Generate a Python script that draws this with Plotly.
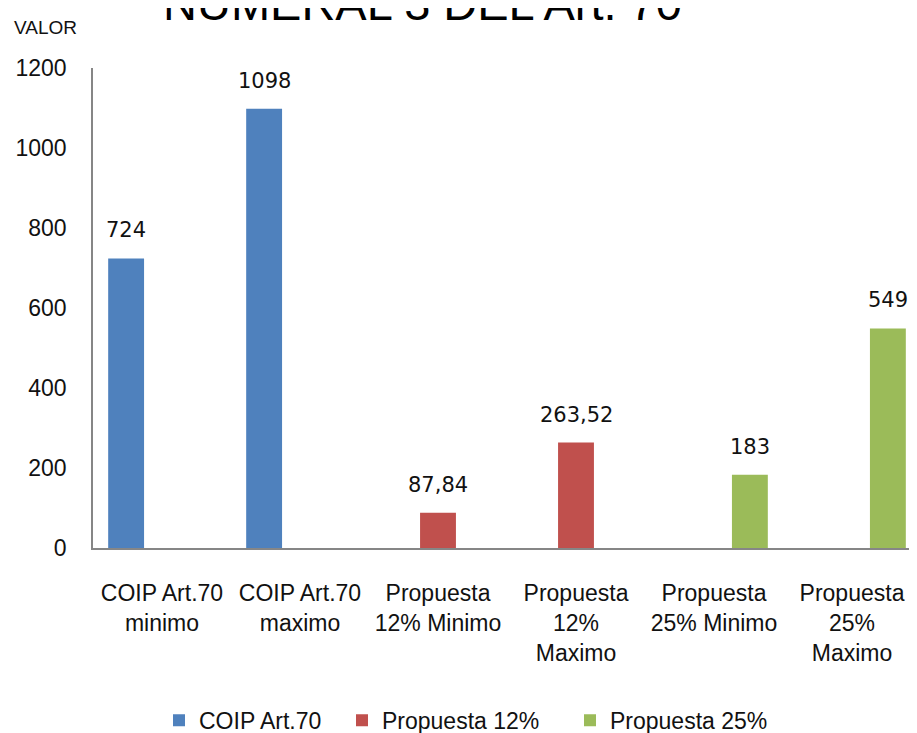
import plotly.graph_objects as go

categories = ["COIP Art.70<br>minimo", "COIP Art.70<br>maximo", "Propuesta<br>12% Minimo",
              "Propuesta<br>12%<br>Maximo", "Propuesta<br>25% Minimo", "Propuesta<br>25%<br>Maximo"]
series_names = ["COIP Art.70", "Propuesta 12%", "Propuesta 25%"]
coip = [724, 1098, None, None, None, None]
prop12 = [None, None, 87.84, 263.52, None, None]
prop25 = [None, None, None, None, 183, 549]
colors = ["#4F81BD", "#C0504D", "#9BBB59"]
y_ticks = [0, 200, 400, 600, 800, 1000, 1200]

FONT = "Liberation Sans, Arial, sans-serif"
LABEL_FONT = "DejaVu Sans, Verdana, sans-serif"

# page body has an 8px margin, so the figure is offset by 8px
ML, MT, MB, MR = 85, 60, 193, 4
PW = 917 - ML - MR

fig = go.Figure()
all_series = [coip, prop12, prop25]
legend_ids = ["legend", "legend2", "legend3"]
for name, vals, col, lg in zip(series_names, all_series, colors, legend_ids):
    fig.add_trace(go.Bar(name=name, x=categories, y=vals, marker_color=col,
                         marker_line_width=0, legend=lg))

def fmt(v):
    s = f"{v:g}"
    return s.replace(".", ",")

bar_px = PW / 6 * (1 - 0.22) / 3
for i, vals in enumerate(all_series):
    for c, v in zip(categories, vals):
        if v is None:
            continue
        fig.add_annotation(x=c, y=v, xref="x", yref="y", text=fmt(v), showarrow=False,
                           xshift=(i - 1) * bar_px, yshift=28,
                           font=dict(family=LABEL_FONT, size=21, color="#111"))

fig.add_annotation(xref="paper", yref="paper", x=-81 / PW, y=1.085, xanchor="left", yanchor="middle",
                   text="VALOR", showarrow=False, font=dict(family=FONT, size=19, color="#111"))
fig.add_annotation(xref="paper", yref="paper", x=0.398, y=1.076, xanchor="center", yanchor="bottom",
                   text="NUMERAL 3 DEL Art. 70", showarrow=False,
                   font=dict(family=FONT, size=47, color="#000"))

leg_font = dict(family=FONT, size=23, color="#111")
def leg(px):
    return dict(orientation="h", x=(px - 93) / PW, xanchor="left", y=-0.314, yanchor="top",
                font=leg_font, bgcolor="rgba(0,0,0,0)")

fig.update_layout(
    width=917, height=733,
    margin=dict(l=ML, r=MR, t=MT, b=MB, autoexpand=False),
    paper_bgcolor="white", plot_bgcolor="white",
    barmode="group", bargap=0.22, bargroupgap=0,
    font=dict(family=FONT, size=23, color="#111"),
    showlegend=True,
    legend=leg(159), legend2=leg(342), legend3=leg(570),
)
fig.update_xaxes(showline=True, linecolor="#868686", linewidth=1.5, ticks="", automargin=False,
                 showgrid=False, ticklabelstandoff=24, tickangle=0)
fig.update_yaxes(showline=True, linecolor="#868686", linewidth=1.5, ticks="", automargin=False,
                 showgrid=False, zeroline=False, range=[0, 1200], tickvals=y_ticks,
                 ticklabelstandoff=20)

fig.write_html("out.html")
